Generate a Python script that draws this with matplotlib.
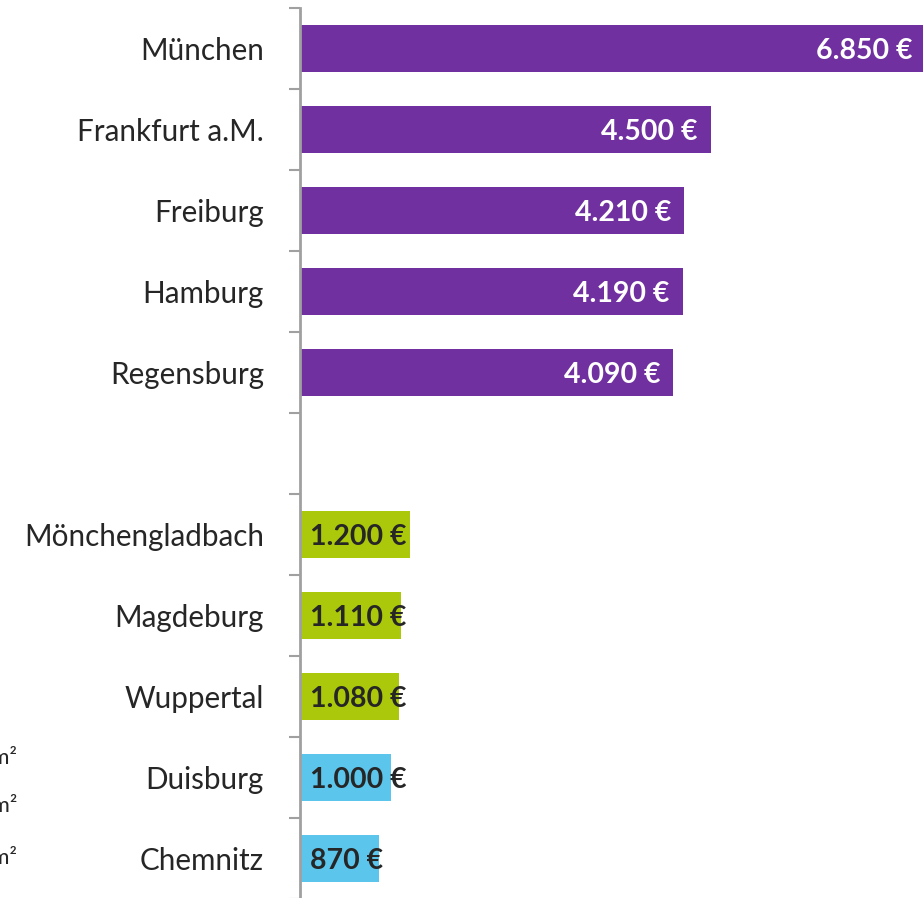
import matplotlib
matplotlib.use("Agg")
import matplotlib.pyplot as plt
import numpy as np

cities = ["München", "Frankfurt a.M.", "Freiburg", "Hamburg", "Regensburg", "",
          "Mönchengladbach", "Magdeburg", "Wuppertal", "Duisburg", "Chemnitz"]
values = [6850, 4500, 4210, 4190, 4090, None, 1200, 1110, 1080, 1000, 870]
groups = ["high", "high", "high", "high", "high", None, "mid", "mid", "mid", "low", "low"]
value_labels = ["6.850 €", "4.500 €", "4.210 €", "4.190 €", "4.090 €", "",
                "1.200 €", "1.110 €", "1.080 €", "1.000 €", "870 €"]
legend_texts = ["über 4.000 €/m²", "1.000 – 1.300 €/m²", "unter 1.000 €/m²"]

colors = {"high": "#7030A0", "mid": "#ACC80A", "low": "#5BC5EC"}
text_colors = {"high": "white", "mid": "#262626", "low": "#262626"}

W, H = 923, 898
fig = plt.figure(figsize=(W / 100, H / 100), dpi=100)
plt.rcParams['font.family'] = ['Lato', 'DejaVu Sans']

ax = fig.add_axes([300 / W, (H - 899) / H, 623 / W, 891 / H])
n = len(cities)
y = np.arange(n)
for i, (v, g) in enumerate(zip(values, groups)):
    if v is None:
        continue
    ax.barh(i, v, height=0.58, color=colors[g], zorder=2)
    if g == "high":
        ax.annotate(value_labels[i], (v, i), xytext=(-9.5, 0), textcoords="offset points",
                    ha="right", va="center_baseline", color=text_colors[g], fontsize=20.5,
                    fontweight="bold", annotation_clip=False, clip_on=True)
    else:
        ax.annotate(value_labels[i], (0, i), xytext=(7, 0), textcoords="offset points",
                    ha="left", va="center_baseline", color=text_colors[g], fontsize=20.5,
                    fontweight="bold", zorder=3)

ax.set_xlim(0, 623 / 0.0913)
ax.set_ylim(n - 0.5, -0.5)
ax.set_yticks(y)
ax.set_yticklabels(cities, fontsize=21.3, color="#262626")
ax.tick_params(axis="y", which="major", length=0, pad=26)
ax.set_yticks(np.arange(n + 1) - 0.5, minor=True)
ax.tick_params(axis="y", which="minor", length=8, width=1.5, color="#A0A0A0")
ax.set_xticks([])
for s in ["top", "right", "bottom"]:
    ax.spines[s].set_visible(False)
ax.spines["left"].set_color("#A0A0A0")
ax.spines["left"].set_linewidth(2)

for t, yy in zip(legend_texts, [757, 805, 857]):
    fig.text(17 / W, 1 - yy / H, t, ha="right", va="center", fontsize=16, color="#262626")

fig.savefig("out.png", dpi=100)
